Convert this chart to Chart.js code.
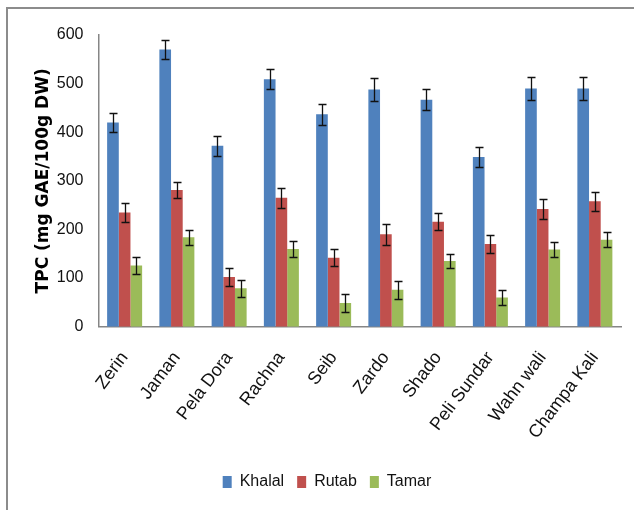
<!DOCTYPE html>
<html>
<head>
<meta charset="utf-8">
<script src="https://cdn.jsdelivr.net/npm/chart.js@4.4.1/dist/chart.umd.min.js"></script>
<style>
  html, body { margin: 0; padding: 0; background: #fff; }
  #wrap { position: relative; width: 634px; height: 510px; }
  #frame { position: absolute; left: 6px; top: 7px; right: 0; bottom: 0;
           border-top: 2px solid #8c8c8c; border-left: 2px solid #8c8c8c; pointer-events: none; }
</style>
</head>
<body>
<div id="wrap">
  <canvas id="tpcChart" width="634" height="510"></canvas>
  <div id="frame"></div>
</div>
<script>
// cultivars
var cultivars = ["Zerin", "Jaman", "Pela Dora", "Rachna", "Seib", "Zardo", "Shado", "Peli Sundar", "Wahn wali", "Champa Kali"];

// TPC values per ripening stage
var khalal = [420, 570, 372, 509, 437, 488, 467, 349, 490, 490];
var rutab  = [235, 281, 102, 265, 142, 190, 216, 170, 242, 258];
var tamar  = [126, 184, 79, 160, 49, 76, 135, 60, 159, 179];

// error bar sizes
var khalalErr = [20, 20, 20, 21, 22, 23, 22, 21, 23, 23];
var rutabErr  = [20, 17, 18, 20, 18, 21, 18, 18, 21, 20];
var tamarErr  = [17, 15, 18, 16, 18, 18, 15, 15, 15, 16];

var yTicks = [0, 100, 200, 300, 400, 500, 600];

var sans = "'Liberation Sans', Arial, sans-serif";

// draws the +/- error whiskers using the y scale
var errorBars = {
    id: 'errorBars',
    afterDatasetsDraw: function (chart) {
        var ctx = chart.ctx;
        var y = chart.scales.y;
        ctx.save();
        ctx.strokeStyle = '#111';
        ctx.lineWidth = 1.3;
        chart.data.datasets.forEach(function (ds, i) {
            var meta = chart.getDatasetMeta(i);
            if (meta.hidden) return;
            meta.data.forEach(function (bar, j) {
                var v = ds.data[j], e = ds.errors[j];
                var top = Math.round(y.getPixelForValue(v + e)) + 0.5;
                var bot = Math.round(y.getPixelForValue(v - e)) + 0.5;
                var x = Math.round(bar.x) + 0.5;
                ctx.beginPath();
                ctx.moveTo(x, top); ctx.lineTo(x, bot);
                ctx.moveTo(x - 4, top); ctx.lineTo(x + 4, top);
                ctx.moveTo(x - 4, bot); ctx.lineTo(x + 4, bot);
                ctx.stroke();
            });
        });
        ctx.restore();
    }
};

var ctx = document.getElementById("tpcChart").getContext("2d");
new Chart(ctx, {
    type: 'bar',
    data: {
        labels: cultivars,
        datasets: [
            { label: "Khalal", data: khalal, errors: khalalErr, backgroundColor: "#4F81BD" },
            { label: "Rutab",  data: rutab,  errors: rutabErr,  backgroundColor: "#C0504D" },
            { label: "Tamar",  data: tamar,  errors: tamarErr,  backgroundColor: "#9BBB59" }
        ]
    },
    options: {
        responsive: false,
        animation: false,
        devicePixelRatio: 1,
        datasets: { bar: { categoryPercentage: 0.67, barPercentage: 1.0 } },
        layout: { padding: { left: 33, right: 13, top: 35, bottom: 10 } },
        plugins: {
            tooltip: { enabled: false },
            legend: {
                position: 'bottom',
                labels: {
                    boxWidth: 9, boxHeight: 12, padding: 13,
                    color: '#111',
                    font: { family: sans, size: 16 }
                }
            }
        },
        scales: {
            x: {
                afterFit: function (scale) { scale.height -= 3; },
                grid: { display: false, drawTicks: false },
                border: { color: '#868686', width: 1.5 },
                ticks: {
                    minRotation: 53, maxRotation: 53, padding: 21,
                    color: '#111',
                    font: { family: sans, size: 18 }
                }
            },
            y: {
                min: 0, max: 600,
                afterBuildTicks: function (axis) {
                    axis.ticks = yTicks.map(function (v) { return { value: v }; });
                },
                afterFit: function (scale) { scale.width = 65.5; },
                grid: { display: false, drawTicks: false },
                border: { color: '#868686', width: 1.5 },
                ticks: {
                    padding: 15,
                    color: '#111',
                    font: { family: sans, size: 16 }
                },
                title: {
                    display: true,
                    text: "TPC (mg GAE/100g DW)",
                    color: '#000',
                    padding: { top: 0, bottom: 4 },
                    font: { family: "'DejaVu Sans', sans-serif", size: 17, weight: 'bold' }
                }
            }
        }
    },
    plugins: [errorBars]
});
</script>
</body>
</html>
